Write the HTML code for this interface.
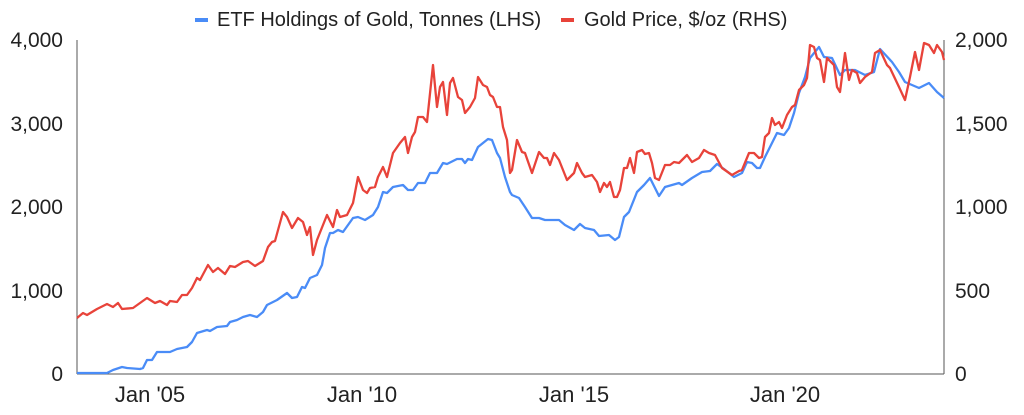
<!DOCTYPE html>
<html><head><meta charset="utf-8"><style>
html,body{margin:0;padding:0;background:#fff;}
svg{display:block;font-family:"Liberation Sans",Arial,sans-serif;}
</style></head><body>
<svg width="1024" height="415" viewBox="0 0 1024 415">
<rect width="1024" height="415" fill="#fff"/>
<g font-size="20" fill="#222">
<rect x="195" y="18" width="13" height="4" fill="#4a8cf7"/>
<text x="217" y="26">ETF Holdings of Gold, Tonnes (LHS)</text>
<rect x="561" y="18" width="13" height="4" fill="#e8433a"/>
<text x="584" y="26">Gold Price, $/oz (RHS)</text>
</g>
<g font-size="21" fill="#222">
<text x="63" y="47" text-anchor="end">4,000</text>
<text x="63" y="131" text-anchor="end">3,000</text>
<text x="63" y="214" text-anchor="end">2,000</text>
<text x="63" y="298" text-anchor="end">1,000</text>
<text x="63" y="381" text-anchor="end">0</text>
<text x="955" y="47">2,000</text>
<text x="955" y="131">1,500</text>
<text x="955" y="214">1,000</text>
<text x="955" y="298">500</text>
<text x="955" y="381">0</text>
<text x="150" y="402" text-anchor="middle" font-size="22">Jan '05</text>
<text x="362" y="402" text-anchor="middle" font-size="22">Jan '10</text>
<text x="574" y="402" text-anchor="middle" font-size="22">Jan '15</text>
<text x="785" y="402" text-anchor="middle" font-size="22">Jan '20</text>
</g>
<line x1="77" y1="40" x2="77" y2="374" stroke="#555" stroke-width="1"/>
<line x1="944" y1="40" x2="944" y2="374" stroke="#555" stroke-width="1"/>
<line x1="77" y1="374" x2="944" y2="374" stroke="#555" stroke-width="1"/>
<polyline fill="none" stroke="#4a8cf7" stroke-width="2.3" stroke-linejoin="round" points="77,373 107,373 113,370 122,367 127,368 140,369 143,368 147,360 152,360 157,352 160,352 170,352 177,349 187,347 192,342 197,333 207,330 210,331 217,327 227,326 230,322 237,320 243,317 250,315 257,317 263,312 267,305 277,300 287,293 292,298 297,297 302,287 305,288 310,278 317,275 322,265 325,248 330,233 333,233 338,230 343,232 353,218 358,217 365,220 373,215 378,207 383,192 387,193 393,187 403,185 408,190 413,190 418,183 425,183 430,173 437,173 443,163 447,164 457,159 462,159 465,163 468,159 472,160 478,147 488,139 492,140 497,153 500,158 505,177 510,192 512,195 519,198 525,207 532,218 539,218 545,220 559,220 565,225 574,230 580,224 585,228 594,230 599,236 609,235 615,240 619,237 624,217 629,212 637,192 644,185 650,178 659,196 665,187 679,183 682,185 692,178 702,172 710,171 717,164 724,169 734,177 742,173 747,162 752,163 757,168 760,168 765,157 770,147 777,133 784,135 789,128 794,113 799,93 805,77 810,58 819,47 824,57 832,58 840,75 845,70 855,70 865,75 874,72 880,49 892,62 899,72 905,82 912,85 919,88 929,83 937,92 944,98"/>
<polyline fill="none" stroke="#e8433a" stroke-width="2.3" stroke-linejoin="round" points="77,318 83,313 87,315 97,309 107,304 113,307 118,303 122,309 133,308 147,298 155,303 160,301 167,305 170,301 177,302 182,295 187,295 192,288 197,278 200,280 208,265 213,272 218,268 225,274 230,266 235,267 243,262 248,261 255,266 263,261 268,247 272,242 275,241 283,212 287,217 292,228 298,218 303,222 307,235 310,227 313,255 317,240 327,215 333,227 337,210 340,217 347,215 353,203 358,177 363,190 367,193 370,188 375,187 378,177 383,167 387,177 393,153 400,143 405,137 408,153 412,137 415,132 418,117 423,117 427,122 433,65 437,107 440,87 443,82 447,115 450,83 453,78 458,97 462,100 465,113 470,107 475,98 478,77 483,85 487,87 490,95 493,97 497,107 500,107 503,127 507,140 510,173 512,170 517,140 522,152 525,153 532,173 539,152 544,158 547,158 550,165 554,153 559,160 567,180 574,173 577,163 582,173 585,177 592,175 597,182 600,192 604,183 607,187 610,182 614,197 617,197 620,190 624,168 627,168 630,158 634,173 637,152 642,150 645,154 649,153 652,163 655,178 659,180 665,165 670,165 674,162 679,163 682,160 687,155 692,162 699,158 704,150 709,153 715,155 722,168 732,175 739,171 742,170 749,153 754,153 759,158 762,157 765,137 769,133 772,118 775,125 779,122 782,128 787,115 792,107 795,105 799,90 804,85 807,78 810,45 814,47 817,58 820,60 824,82 827,58 834,65 837,87 840,92 845,53 849,80 852,70 857,73 860,83 865,77 872,72 875,53 880,50 887,65 890,68 899,87 905,100 910,77 915,52 919,70 924,43 929,45 934,53 937,45 942,52 944,60"/>
</svg>
</body></html>
